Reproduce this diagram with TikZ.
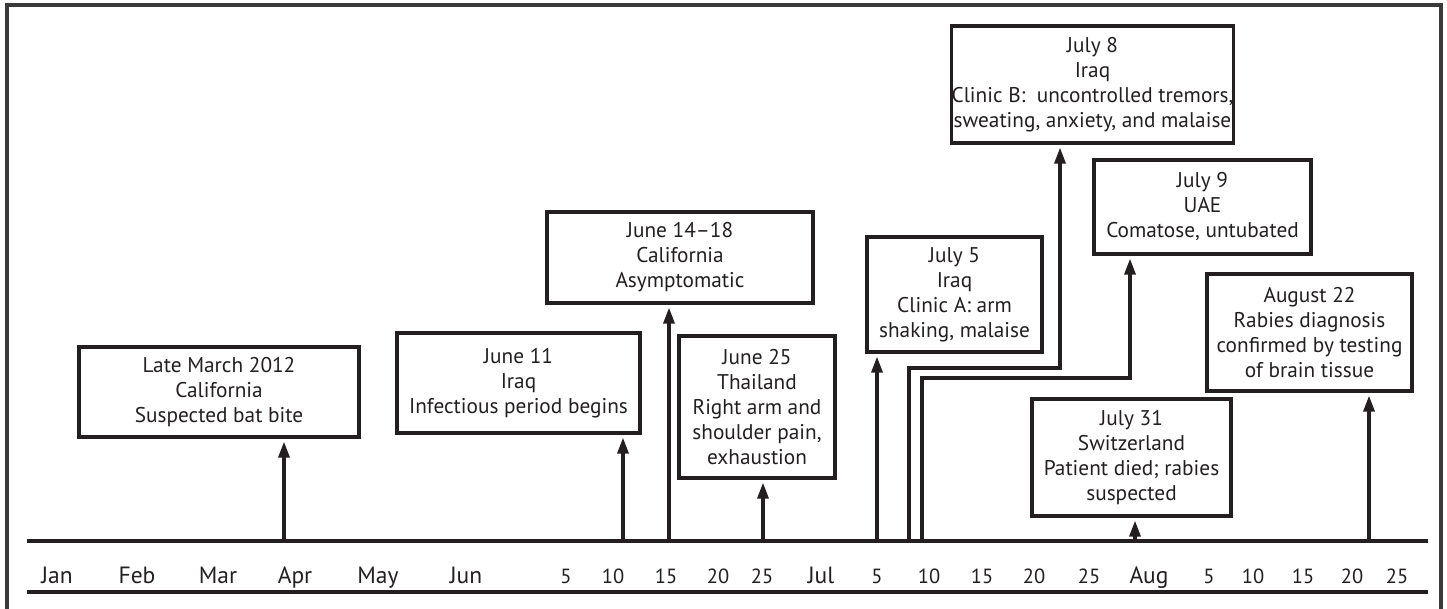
\documentclass[tikz,border=0pt]{standalone}
\usepackage{fontspec}
\setmainfont{PT Sans}
\usetikzlibrary{arrows.meta}
\definecolor{ink}{HTML}{231F20}
\definecolor{framec}{HTML}{3A3A3A}
\newcommand{\boxfont}{\fontsize{21.3}{25}\selectfont}
\newcommand{\monfont}{\fontsize{23.5}{27}\selectfont}
\newcommand{\dayfont}{\fontsize{20.5}{24}\selectfont}
\begin{document}
\begin{tikzpicture}[x=1pt,y=-1pt,
  box/.style={draw=ink, line width=3.2pt, align=center, inner sep=0pt, font=\boxfont, text=ink},
  arr/.style={draw=ink, line width=3.2pt, -{Triangle[length=16pt,width=11pt]}, shorten >=3pt},
  axisline/.style={draw=ink, line width=3.4pt},
  mon/.style={anchor=base, font=\monfont, text=ink},
  day/.style={anchor=base, font=\dayfont, text=ink}]
\useasboundingbox (0,0) rectangle (1447,609);
% frame
\draw[framec, line width=3.4pt] (7,609) -- (7,5) -- (1441,5) -- (1441,609);
% axis
\draw[axisline] (27,541) -- (1428,541);
\draw[axisline] (27,592) -- (1428,592);
% month labels
\node[mon] (mjan) at (57,583) {Jan};
\node[mon] (mfeb) at (137,583) {Feb};
\node[mon] (mmar) at (218,583) {Mar};
\node[mon] (mapr) at (295,583) {Apr};
\node[mon] (mmay) at (378,583) {May};
\node[mon] (mjun) at (466,583) {Jun};
\node[mon] (mjul) at (821,583) {Jul};
\node[mon] (maug) at (1149,583) {Aug};
% day labels
\node[day] (d1) at (566,583) {5};
\node[day] (d2) at (613,583) {10};
\node[day] (d3) at (666,583) {15};
\node[day] (d4) at (718,583) {20};
\node[day] (d5) at (762,583) {25};
\node[day] (d6) at (877,583) {5};
\node[day] (d7) at (929,583) {10};
\node[day] (d8) at (982,583) {15};
\node[day] (d9) at (1034,583) {20};
\node[day] (d10) at (1089,583) {25};
\node[day] (d11) at (1209,583) {5};
\node[day] (d12) at (1253,583) {10};
\node[day] (d13) at (1303,583) {15};
\node[day] (d14) at (1352,583) {20};
\node[day] (d15) at (1397,583) {25};
% boxes
\node[box, minimum width=280pt, minimum height=90pt] (b1) at (219,392) {Late March 2012\\California\\Suspected bat bite};
\node[box, minimum width=243pt, minimum height=100pt] (b2) at (518.5,383) {June 11\\Iraq\\Infectious period begins};
\node[box, minimum width=266pt, minimum height=91pt] (b3) at (680,257.5) {June 14–18\\California\\Asymptomatic};
\node[box, minimum width=156pt, minimum height=142pt] (b4) at (757,407) {June 25\\Thailand\\Right arm and\\shoulder pain,\\exhaustion};
\node[box, minimum width=175pt, minimum height=115pt] (b5) at (954.5,294.5) {July 5\\Iraq\\Clinic A: arm\\shaking, malaise};
\node[box, minimum width=281pt, minimum height=117pt] (b6) at (1092.5,84.5) {July 8\\Iraq\\Clinic B:~ uncontrolled tremors,\\sweating, anxiety, and malaise};
\node[box, minimum width=217pt, minimum height=94pt] (b7) at (1202.5,207) {July 9\\UAE\\Comatose, untubated};
\node[box, minimum width=199pt, minimum height=117pt] (b8) at (1131.5,457.5) {July 31\\Switzerland\\Patient died; rabies\\suspected};
\node[box, minimum width=205pt, minimum height=117pt] (b9) at (1309.5,332.5) {August 22\\Rabies diagnosis\\confirmed by testing\\of brain tissue};
% tick points on axis
\coordinate (a1) at (284,541);
\coordinate (a2) at (623,541);
\coordinate (a3) at (669,541);
\coordinate (a4) at (763,541);
\coordinate (a5) at (877,541);
\coordinate (a6) at (909,541);
\coordinate (a7) at (922,541);
\coordinate (a8) at (1135,541);
\coordinate (a9) at (1369,541);
% connectors
\draw[arr] (a1) -- (a1 |- b1.south);
\draw[arr] (a2) -- (a2 |- b2.south);
\draw[arr] (a3) -- (a3 |- b3.south);
\draw[arr] (a4) -- (a4 |- b4.south);
\draw[arr] (a5) -- (a5 |- b5.south);
\draw[arr] (a6) -- ++(0,-173) -| ([xshift=-32.5pt]b6.south);
\draw[arr] (a7) -- ++(0,-163) -| ([xshift=-72.5pt]b7.south);
\draw[arr] (a8) -- (a8 |- b8.south);
\draw[arr] (a9) -- (a9 |- b9.south);
\end{tikzpicture}
\end{document}
